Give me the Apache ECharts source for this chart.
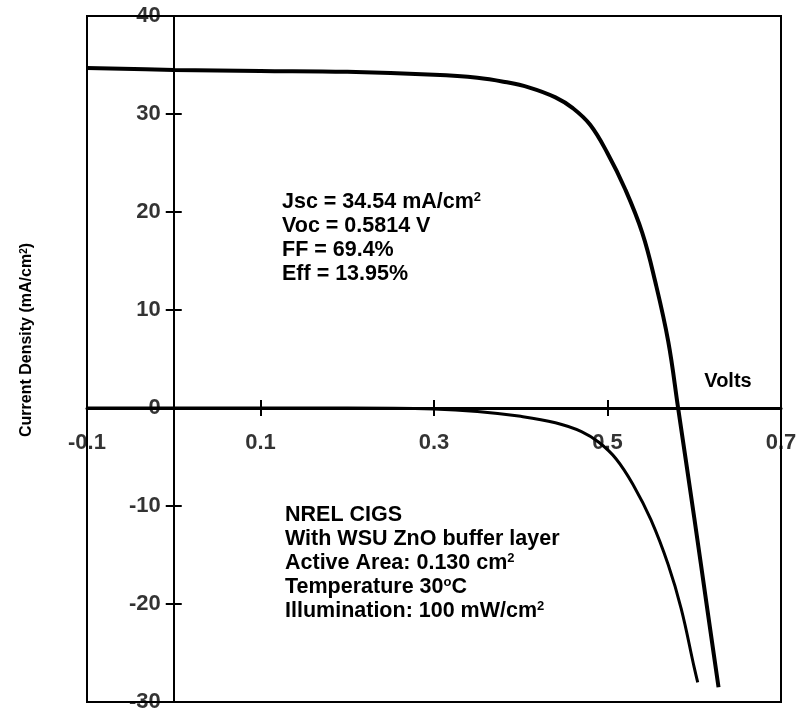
<!DOCTYPE html>
<html><head><meta charset="utf-8">
<script src="https://cdn.jsdelivr.net/npm/echarts@6/dist/echarts.min.js"></script>
<style>html,body{margin:0;padding:0;background:#fff}#c{width:798px;height:709px}</style>
</head><body><div id="c"></div>
<script>
// Illuminated J-V curve (Volts, mA/cm^2)
const lightV = [-0.1, 0, 0.1, 0.2, 0.3, 0.35, 0.38, 0.41, 0.44, 0.46, 0.48, 0.50, 0.52, 0.54, 0.555, 0.57, 0.5814, 0.60, 0.615, 0.628];
const lightJ = [34.7, 34.5, 34.4, 34.3, 34.0, 33.7, 33.3, 32.7, 31.7, 30.6, 28.9, 26.0, 22.4, 17.9, 12.9, 6.8, 0, -11.2, -20.5, -28.5];
// Dark J-V curve
const darkV = [-0.1, 0, 0.1, 0.2, 0.3, 0.35, 0.40, 0.44, 0.47, 0.49, 0.51, 0.53, 0.55, 0.57, 0.585, 0.60, 0.604];
const darkJ = [0, 0, 0, 0, -0.1, -0.35, -0.85, -1.5, -2.4, -3.5, -5.2, -7.9, -11.4, -16.0, -20.5, -26.5, -28.0];
const xTicks = [-0.1, 0.1, 0.3, 0.5, 0.7];
const yTicks = [-30, -20, -10, 0, 10, 20, 30, 40];
const statsLines = [['Jsc = 34.54 mA/cm', '2'], ['Voc = 0.5814 V', ''], ['FF = 69.4%', ''], ['Eff = 13.95%', '']];
const infoLines = [['NREL CIGS', ''], ['With WSU ZnO buffer layer', ''], ['Active Area: 0.130 cm', '2'], ['Temperature 30', 'o', 'C'], ['Illumination: 100 mW/cm', '2']];

const FONT = '"Liberation Sans", Arial, Helvetica, sans-serif';
const chart = echarts.init(document.getElementById('c'), null, {renderer: 'canvas'});

function richText(parts) {
  let t = '{b|' + parts[0] + '}';
  if (parts[1]) t += '{s|' + parts[1] + '}';
  if (parts[2]) t += '{b|' + parts[2] + '}';
  return t;
}
function richStyle(size) {
  return {
    b: {fontFamily: FONT, fontSize: size, fontWeight: 'bold', color: '#000'},
    s: {fontFamily: FONT, fontSize: Math.round(size * 0.62), fontWeight: 'bold', color: '#000', verticalAlign: 'top'}
  };
}

const graphics = [];
statsLines.forEach((p, i) => {
  graphics.push({type: 'text', x: 282, y: 202 + i * 24, style: {text: richText(p), rich: richStyle(21.5), align: 'left', verticalAlign: 'middle'}});
});
infoLines.forEach((p, i) => {
  graphics.push({type: 'text', x: 285, y: 515 + i * 24, style: {text: richText(p), rich: richStyle(21.5), align: 'left', verticalAlign: 'middle'}});
});
graphics.push({type: 'text', x: 728, y: 381, style: {text: 'Volts', fontFamily: FONT, fontSize: 20, fontWeight: 'bold', fill: '#000', align: 'center', verticalAlign: 'middle'}});
graphics.push({type: 'text', x: 27, y: 340, rotation: Math.PI / 2, style: {text: '{b|Current Density (mA/cm}{s|2}{b|)}', rich: richStyle(16), align: 'center', verticalAlign: 'middle'}});

const tickStyle = {color: '#000', width: 2};
const lblFont = {fontFamily: FONT, fontSize: 22, fontWeight: 'bold', color: '#000'};

chart.setOption({
  animation: false,
  backgroundColor: '#fff',
  grid: {left: 87, right: 17, top: 16, bottom: 7, outerBoundsMode: 'none', containLabel: false,
         show: true, borderColor: '#000', borderWidth: 2, backgroundColor: 'transparent'},
  xAxis: [
    {type: 'value', min: -0.1, max: 0.7, position: 'bottom',
     axisLine: {onZero: true, onZeroAxisIndex: 0, lineStyle: {color: '#000', width: 3}},
     axisTick: {show: true, customValues: xTicks, length: 8, lineStyle: tickStyle},
     axisLabel: {show: false}, splitLine: {show: false}},
    {type: 'value', min: -0.1, max: 0.7, position: 'top',
     axisLine: {show: false, onZero: true, onZeroAxisIndex: 1},
     axisTick: {show: true, customValues: xTicks, length: 8, lineStyle: tickStyle},
     axisLabel: {show: false}, splitLine: {show: false}}
  ],
  yAxis: [
    {type: 'value', min: -30, max: 40, interval: 10, position: 'left',
     axisLine: {onZero: true, onZeroAxisIndex: 0, lineStyle: {color: '#000', width: 2}},
     axisTick: {show: true, customValues: yTicks, length: 8, lineStyle: tickStyle},
     axisLabel: {show: false}, splitLine: {show: false}},
    {type: 'value', min: -30, max: 40, interval: 10, position: 'right',
     axisLine: {show: false, onZero: true, onZeroAxisIndex: 1},
     axisTick: {show: true, customValues: yTicks, length: 8, lineStyle: tickStyle},
     axisLabel: {show: false}, splitLine: {show: false}}
  ],
  graphic: graphics,
  series: [
    {type: 'line', name: 'Light', xAxisIndex: 0, yAxisIndex: 0, data: lightV.map((v, i) => [v, lightJ[i]]),
     showSymbol: false, smooth: 0.4, lineStyle: {color: '#000', width: 4}, clip: true, z: 3},
    {type: 'line', name: 'Dark', xAxisIndex: 0, yAxisIndex: 0, data: darkV.map((v, i) => [v, darkJ[i]]),
     showSymbol: false, smooth: 0.4, lineStyle: {color: '#000', width: 3}, clip: true, z: 3},
    // tick labels placed on the zero lines through the axes' scales
    {type: 'scatter', name: 'xLabels', xAxisIndex: 0, yAxisIndex: 0, silent: true, symbolSize: 0, clip: false, z: 5,
     data: xTicks.map(v => [v, 0]),
     label: Object.assign({show: true, position: 'bottom', distance: 24,
       formatter: p => (Math.round(p.value[0] * 10) / 10).toString()}, lblFont)},
    {type: 'scatter', name: 'yLabels', xAxisIndex: 0, yAxisIndex: 0, silent: true, symbolSize: 0, clip: false, z: 5,
     data: yTicks.map(v => [0, v]),
     label: Object.assign({show: true, position: 'left', distance: 13,
       formatter: p => String(p.value[1])}, lblFont)}
  ]
});
</script>
</body></html>
